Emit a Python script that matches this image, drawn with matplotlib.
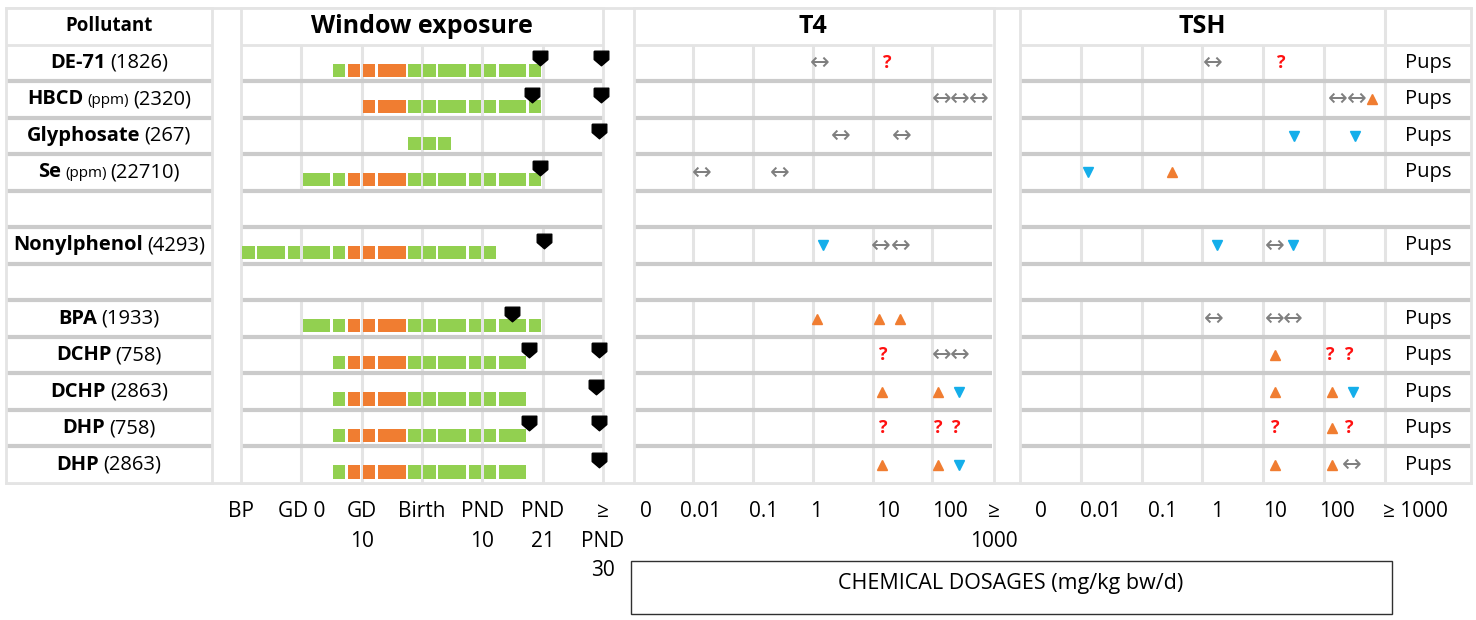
import matplotlib
matplotlib.use("Agg")
import matplotlib.pyplot as plt
from matplotlib.path import Path
from matplotlib.patches import Rectangle
from matplotlib.offsetbox import TextArea, HPacker, AnnotationBbox

plt.rcParams['font.family'] = ['Open Sans', 'DejaVu Sans']

# ==========================================================
# Datos
# ==========================================================
pollutants = ["DE-71", "HBCD", "Glyphosate", "Se", "", "Nonylphenol", "",
              "BPA", "DCHP", "DCHP", "DHP", "DHP"]
units = ["", "(ppm)", "", "(ppm)", "", "", "", "", "", "", "", ""]
refs = ["(1826)", "(2320)", "(267)", "(22710)", "", "(4293)", "",
        "(1933)", "(758)", "(2863)", "(758)", "(2863)"]
subject = "Pups"

window_ticks = ["BP", "GD 0", "GD\n10", "Birth", "PND\n10", "PND\n21", "≥\nPND\n30"]
t4_ticks = ["0", "0.01", "0.1", "1", "10", "100", "≥\n1000"]
t4_tick_pos = [0.2, 1.12, 2.17, 3.05, 4.25, 5.3, 6.03]
tsh_ticks = ["0", "0.01", "0.1", "1", "10", "100", "≥ 1000"]
tsh_tick_pos = [0.35, 1.32, 2.34, 3.24, 4.19, 5.21, 6.5]

# ventana de exposicion: (inicio, fin, color) en unidades de columna
G, O = "g", "o"
exposure = [
    [(1.5, 1.75, G), (1.75, 2, O), (2, 2.25, O), (2.25, 2.75, O), (2.75, 3, G), (3, 3.25, G),
     (3.25, 3.75, G), (3.75, 4, G), (4, 4.25, G), (4.25, 4.75, G), (4.75, 5, G)],
    [(2, 2.25, O), (2.25, 2.75, O), (2.75, 3, G), (3, 3.25, G), (3.25, 3.75, G), (3.75, 4, G),
     (4, 4.25, G), (4.25, 4.75, G), (4.75, 5, G)],
    [(2.75, 3, G), (3, 3.25, G), (3.25, 3.5, G)],
    [(1, 1.5, G), (1.5, 1.75, G), (1.75, 2, O), (2, 2.25, O), (2.25, 2.75, O), (2.75, 3, G),
     (3, 3.25, G), (3.25, 3.75, G), (3.75, 4, G), (4, 4.25, G), (4.25, 4.75, G), (4.75, 5, G)],
    [],
    [(0, 0.25, G), (0.25, 0.75, G), (0.75, 1, G), (1, 1.5, G), (1.5, 1.75, G), (1.75, 2, O),
     (2, 2.25, O), (2.25, 2.75, O), (2.75, 3, G), (3, 3.25, G), (3.25, 3.75, G), (3.75, 4, G),
     (4, 4.25, G)],
    [],
    [(1, 1.5, G), (1.5, 1.75, G), (1.75, 2, O), (2, 2.25, O), (2.25, 2.75, O), (2.75, 3, G),
     (3, 3.25, G), (3.25, 3.75, G), (3.75, 4, G), (4, 4.25, G), (4.25, 4.75, G), (4.75, 5, G)],
    [(1.5, 1.75, G), (1.75, 2, O), (2, 2.25, O), (2.25, 2.75, O), (2.75, 3, G), (3, 3.25, G),
     (3.25, 3.75, G), (3.75, 4, G), (4, 4.25, G), (4.25, 4.75, G)],
    [(1.5, 1.75, G), (1.75, 2, O), (2, 2.25, O), (2.25, 2.75, O), (2.75, 3, G), (3, 3.25, G),
     (3.25, 3.75, G), (3.75, 4, G), (4, 4.25, G), (4.25, 4.75, G)],
    [(1.5, 1.75, G), (1.75, 2, O), (2, 2.25, O), (2.25, 2.75, O), (2.75, 3, G), (3, 3.25, G),
     (3.25, 3.75, G), (3.75, 4, G), (4, 4.25, G), (4.25, 4.75, G)],
    [(1.5, 1.75, G), (1.75, 2, O), (2, 2.25, O), (2.25, 2.75, O), (2.75, 3, G), (3, 3.25, G),
     (3.25, 3.75, G), (3.75, 4, G), (4, 4.25, G), (4.25, 4.75, G)],
]

# momento de la medicion (marcadores negros)
sampling = [[4.96, 5.96], [4.83, 5.96], [5.94], [4.95], [], [5.03], [],
            [4.49], [4.78, 5.94], [5.89], [4.78, 5.94], [5.93]]

# efectos: (posicion de dosis, simbolo)
t4_effects = [
    [(3.12, "↔"), (4.25, "?")],
    [(5.15, "↔"), (5.45, "↔"), (5.78, "↔")],
    [(3.46, "↔"), (4.48, "↔")],
    [(1.14, "↔"), (2.45, "↔")],
    [],
    [(3.17, "▼"), (4.14, "↔"), (4.47, "↔")],
    [],
    [(3.07, "▲"), (4.1, "▲"), (4.46, "▲")],
    [(4.17, "?"), (5.15, "↔"), (5.45, "↔")],
    [(4.16, "▲"), (5.1, "▲"), (5.45, "▼")],
    [(4.17, "?"), (5.1, "?"), (5.4, "?")],
    [(4.16, "▲"), (5.1, "▲"), (5.45, "▼")],
]
tsh_effects = [
    [(3.17, "↔"), (4.29, "?")],
    [(5.23, "↔"), (5.53, "↔"), (5.79, "▲")],
    [(4.51, "▼"), (5.51, "▼")],
    [(1.12, "▼"), (2.5, "▲")],
    [],
    [(3.24, "▼"), (4.18, "↔"), (4.49, "▼")],
    [],
    [(3.19, "↔"), (4.18, "↔"), (4.49, "↔")],
    [(4.19, "▲"), (5.1, "?"), (5.41, "?")],
    [(4.19, "▲"), (5.13, "▲"), (5.48, "▼")],
    [(4.19, "?"), (5.13, "▲"), (5.41, "?")],
    [(4.19, "▲"), (5.13, "▲"), (5.46, "↔")],
]

# ==========================================================
# Estilos
# ==========================================================
bar_colors = {G: "#92d050", O: "#f07d31"}
c_up = "#f07d31"
c_down = "#14aeea"
c_same = "#7f7f7f"
c_q = "#ff1010"
c_grid = "#e4e4e4"
c_sep = "#cbcbcb"

W, H = 1476, 620
fig = plt.figure(figsize=(W / 100, H / 100), dpi=100)
n_rows = len(pollutants)

bg = fig.add_axes([0, 0, 1, 1])
bg.set_xlim(0, W)
bg.set_ylim(H, 0)
bg.axis("off")
bg.hlines([8, 483], 6, 1471, color=c_grid, lw=2)


def px_axes(x0, x1, y0=8, y1=483):
    return fig.add_axes([x0 / W, 1 - y1 / H, (x1 - x0) / W, (y1 - y0) / H])


def table_panel(ax, width, inner_cols, header_cols=()):
    ax.set_xlim(0, width)
    ax.set_ylim(n_rows, -1)
    ax.set_yticks([])
    ax.tick_params(length=0)
    for s in ax.spines.values():
        s.set_color(c_grid)
        s.set_linewidth(2)
    for r in range(n_rows):
        if pollutants[r]:
            ax.vlines(inner_cols, r, r + 1, color=c_grid, lw=2.2, zorder=1)
    if header_cols:
        ax.vlines(header_cols, -1, 0, color=c_grid, lw=2.2, zorder=1)
    ax.hlines(0, 0, width, color=c_grid, lw=2, zorder=2)
    ax.hlines(range(1, n_rows), 0, width, color=c_sep, lw=3, zorder=2)


def bottom_ticks(ax, pos, labels):
    ax.set_xticks(pos, labels)
    ax.tick_params(axis="x", pad=13)
    for lab in ax.get_xticklabels():
        lab.set_fontsize(15)
        lab.set_linespacing(1.53)


# ==========================================================
# Columna de contaminantes
# ==========================================================
ax_p = px_axes(6, 212)
table_panel(ax_p, 1, [])
ax_p.set_xticks([])
ax_p.text(0.5, -0.5, "Pollutant", ha="center", va="center", fontsize=13.5, fontweight="bold")
for r in range(n_rows):
    if not pollutants[r]:
        continue
    parts = [TextArea(pollutants[r], textprops=dict(fontsize=14.5, fontweight="bold"))]
    if units[r]:
        parts.append(TextArea(units[r], textprops=dict(fontsize=11)))
    parts.append(TextArea(refs[r], textprops=dict(fontsize=14.5)))
    box = HPacker(children=parts, align="baseline", pad=0, sep=3)
    ab = AnnotationBbox(box, (0.5, r + 0.5), xycoords="data", frameon=False,
                        box_alignment=(0.5, 0.5), pad=0)
    ax_p.add_artist(ab)

# ==========================================================
# Ventana de exposicion
# ==========================================================
ax_w = px_axes(241, 603)
table_panel(ax_w, 6, range(1, 6))
ax_w.text(3, -0.5, "Window exposure", ha="center", va="center", fontsize=18, fontweight="bold")
gap = 0.022
pent = Path([(-1, 1), (1, 1), (1, -0.15), (0, -1), (-1, -0.15), (-1, 1)])
for r in range(n_rows):
    for a, b, c in exposure[r]:
        ax_w.barh(r + 0.7, b - a - 2 * gap, left=a + gap, height=0.36,
                  color=bar_colors[c], zorder=3)
    if sampling[r]:
        ax_w.plot(sampling[r], [r + 0.37] * len(sampling[r]), ls="none",
                  marker=pent, ms=10.5, color="black", zorder=4, clip_on=False)
bottom_ticks(ax_w, range(7), window_ticks)


# ==========================================================
# T4 y TSH
# ==========================================================
def draw_effects(ax, effects):
    for r in range(n_rows):
        for pos, sym in effects[r]:
            y = r + 0.5
            if sym == "▲":
                ax.plot(pos, y, marker="^", ms=7.5, color=c_up, ls="none", zorder=4)
            elif sym == "▼":
                ax.plot(pos, y, marker="v", ms=7.5, color=c_down, ls="none", zorder=4)
            elif sym == "?":
                ax.text(pos, y, "?", ha="center", va="center", color=c_q,
                        fontsize=13, fontweight="bold", zorder=4)
            else:
                ax.text(pos, y, "↔", ha="center", va="center", color=c_same,
                        fontsize=17, family="DejaVu Sans", zorder=4)


ax_t4 = px_axes(633.5, 994)
table_panel(ax_t4, 6, range(1, 6))
ax_t4.text(3, -0.5, "T4", ha="center", va="center", fontsize=18, fontweight="bold")
draw_effects(ax_t4, t4_effects)
bottom_ticks(ax_t4, t4_tick_pos, t4_ticks)

tsh_w = 6 + 86 / 60.8
ax_tsh = px_axes(1020, 1471)
table_panel(ax_tsh, tsh_w, range(1, 7), header_cols=[6])
ax_tsh.text(3, -0.5, "TSH", ha="center", va="center", fontsize=18, fontweight="bold")
draw_effects(ax_tsh, tsh_effects)
for r in range(n_rows):
    if pollutants[r]:
        ax_tsh.text((6 + tsh_w) / 2, r + 0.5, subject, ha="center", va="center", fontsize=14.5)
bottom_ticks(ax_tsh, tsh_tick_pos, tsh_ticks)

# caja de dosis
bg.add_patch(Rectangle((631, 561), 761, 53, fill=False, edgecolor="#303030", lw=1))
bg.text(1011, 584, "CHEMICAL DOSAGES (mg/kg bw/d)", ha="center", va="center", fontsize=15.5)

fig.savefig("out.png", dpi=100)
